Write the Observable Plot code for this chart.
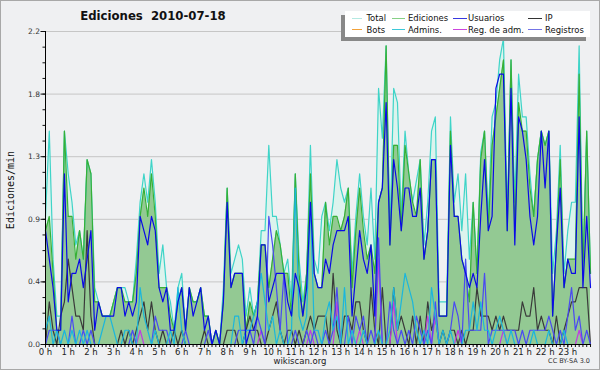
<!DOCTYPE html>
<html><head><meta charset="utf-8">
<script src="https://cdn.jsdelivr.net/npm/d3@7"></script>
<script src="https://cdn.jsdelivr.net/npm/@observablehq/plot@0.6"></script>
<style>
body{margin:0;background:#fff;}
#wrap{position:relative;width:600px;height:370px;background:#eff0f2;overflow:hidden;font-family:"DejaVu Sans Condensed","DejaVu Sans",sans-serif;color:#111;}
#border{position:absolute;left:0;top:0;width:600px;height:370px;box-sizing:border-box;border:1px solid #a8a8a8;pointer-events:none;}
#chart{position:absolute;left:0;top:0;}
#title{position:absolute;left:0;width:306px;top:8px;text-align:center;font-weight:bold;font-size:13px;white-space:pre;}
#legend{position:absolute;left:345px;top:11px;width:245px;height:26px;background:#fff;box-shadow:-4px 4px 0 #888;font-size:9.4px;}
.sw{position:absolute;height:0;border-top:1px solid;}
.lt{position:absolute;white-space:nowrap;line-height:10px;}
#ylab{position:absolute;left:10px;top:190px;transform:translate(-50%,-50%) rotate(-90deg);font-family:"DejaVu Sans Mono",monospace;font-size:10px;white-space:nowrap;}
#foot{position:absolute;left:0;width:600px;top:356px;text-align:center;font-family:"DejaVu Sans",sans-serif;font-size:8.5px;color:#222;}
#cc{position:absolute;right:10px;top:357px;font-family:"DejaVu Sans",sans-serif;font-size:6.5px;color:#333;}
</style></head>
<body>
<div id="wrap">
<div id="chart"></div>
<div id="title">Ediciones  2010-07-18</div>
<div id="legend"></div>
<div id="ylab">Ediciones/min</div>
<div id="foot">wikiscan.org</div>
<div id="cc">CC BY-SA 3.0</div>
<div id="border"></div>
</div>
<script>
// minutes since 00:00, one point every 10 minutes
const minutes = d3.range(0, 1441, 10);

const total = [
 .9,1.5,.6,.2,.2,1.5, 1.2,1.0,.7,.8,.6,1.3, 1.2,.4,.3,.2,.2,.2, .3,.4,.4,.4,.3,.3,
 .6,1.0,1.2,1.0,1.3,1.0, .5,.7,.4,.3,.1,.4, .5,.1,.4,.3,.3,.4, .2,.2,0,.1,0,.4,
 1.1,.5,.6,.7,.6,.2, .4,.2,.3,.8,.8,1.4, .9,.9,.7,.5,.6,.3, 1.2,.6,.3,.5,1.4,.6,
 .5,.9,1.0,.8,1.0,1.3, 1.1,1.0,1.1,.5,.9,1.2, .9,.7,1.1,.6,1.8,1.45, 2.1,.8,1.8,1.7,.9,1.5,
 1.2,1.0,1.15,1.3,.7,1.0, 1.5,1.6,.3,.3,.3,1.6, 1.0,1.2,.8,1.2,.6,1.0, .5,1.35,1.5,.9,1.6,1.7,
 2.0,2.15,.9,2.0,1.0,1.9, 1.6,1.6,1.2,.9,1.3,1.5, 1.4,1.5,.5,.8,1.4,.5, .8,1.0,1.0,2.1,.5,1.5,
 .5];
const ediciones = [
 .8,.9,.5,.1,.1,1.5, .9,.9,.6,.8,.6,1.3, 1.2,.3,.3,.2,.2,.2, .3,.4,.4,.3,.3,.3,
 .5,.9,1.1,.9,1.2,.9, .4,.4,.4,.2,.1,.3, .4,.1,.4,.3,.3,.4, .2,.2,0,.1,0,.3,
 1.1,.4,.5,.5,.5,.1, .3,.2,.3,.7,.7,.4, .6,.8,.7,.5,.5,.2, 1.2,.5,.2,.5,1.2,.5,
 .4,.4,1.0,.7,.9,.9, .8,.9,1.1,.4,.8,1.1, .8,.6,.7,.5,1.0,1.1, 2.1,.7,1.4,1.4,.8,1.4,
 1.2,1.0,.9,1.3,.6,.8, 1.3,1.3,.2,.2,.2,1.5, .9,.9,.6,.5,.3,1.0, .5,1.3,1.5,.8,1.4,1.6,
 1.8,2.0,.8,2.0,.8,1.7, 1.5,1.5,1.1,.9,1.3,1.5, 1.4,1.5,.2,.7,1.3,.4, .6,.6,.6,1.9,.5,1.5,
 .5];
const usuarios = [
 .8,.6,.4,.1,.1,1.2, .3,.5,.5,.6,.4,.6, .8,.1,.3,.2,.2,.2, .2,.4,.4,.2,.3,.2,
 .3,.9,.8,.7,.9,.8, .4,.3,.4,.1,.1,.3, .4,.1,.4,.2,.3,.4, .1,.2,0,.1,0,.3,
 1.0,.4,.5,.5,.5,0, .1,.1,.2,.7,.7,.3, .4,.5,.5,.5,.3,.2, .5,.4,.2,.4,1.0,.5,
 .4,.4,.6,.5,.7,.8, .8,.8,.9,.2,.5,.8, .6,.5,.7,.2,1.0,1.1, 1.7,.7,1.3,1.1,.8,1.1,
 1.1,.9,.9,1.1,.6,.8, 1.3,1.3,.2,.2,.2,1.4, .9,.9,.6,.5,.4,.5, .4,.9,1.3,.8,.9,1.8,
 1.9,1.9,.8,1.8,.7,1.6, 1.5,1.3,.9,.7,.9,1.5, 1.1,1.5,.2,.7,1.1,.4, .6,.5,.5,1.6,.4,.9,
 .4];
const ip = [
 0,.3,.1,0,.2,.3, .6,.4,.2,.2,.1,.8, .2,0,0,0,0,0, 0,0,.1,0,.1,0,
 .1,.2,.3,.1,.3,.1, 0,.1,0,0,.1,0, .1,0,0,0,0,0, .1,0,0,0,0,0,
 .1,.1,.1,0,0,.1, .2,.1,.1,0,0,.1, .2,.3,.1,0,.1,.1, 0,.1,0,.1,.2,.1,
 .2,.2,.2,0,.5,.1, 0,.2,.2,.1,.3,.3, .1,0,.4,.1,0,.4, 0,0,.4,.1,.2,.1,
 0,.2,0,.2,0,.3, .1,.2,0,.1,0,.1, .1,0,.1,0,.1,.1, .4,.2,.2,.2,.1,.2,
 .1,.2,.1,.1,.1,.1, .3,.2,.2,.4,.1,.2, .1,.1,0,.2,0,.1, .2,.3,.3,.4,.4,.4,
 0];
const bots = [
 0,0,0,0,0,0, 0,0,0,0,0,0, 0,0,0,0,0,0, 0,0,0,0,0,0,
 0,0,0,0,0,0, 0,0,0,0,0,0, 0,0,0,0,0,0, 0,0,0,0,0,0,
 0,0,0,0,0,0, 0,0,0,0,0,0, 0,0,0,0,0,0, 0,0,0,0,0,0,
 0,0,0,0,0,0, 0,0,0,0,0,0, 0,0,0,0,0,0, 0,0,0,0,0,0,
 0,0,0,0,0,0, 0,0,0,0,0,0, 0,0,0,0,0,0, 0,0,0,0,0,0,
 0,0,0,0,0,0, 0,0,0,0,0,0, 0,0,0,0,0,0, 0,0,0,0,0,0,
 0];
const admins = [
 .1,.2,0,.1,0,.1, 0,.1,0,.1,0,.1, 0,0,0,.1,.2,.2, .1,0,0,.1,.1,0,
 0,.4,.2,.1,0,.1, 0,0,0,.1,0,.4, .1,0,0,0,0,0, 0,0,0,0,0,0,
 0,0,.2,.2,0,.1, .1,.2,.3,.5,.3,.1, .2,0,.1,0,0,.1, 1.1,.2,.1,.2,1.0,.1,
 .1,0,.2,.3,.1,.2, 0,.4,0,.1,0,0, .1,0,0,0,.1,0, 0,.1,.4,.1,.3,.5,
 .4,.3,.1,0,.1,0, .4,.2,0,.1,0,.1, 0,0,0,.1,.1,.3, .1,.3,.1,.1,0,.1,
 .2,.1,0,.1,0,0, 0,0,0,.1,0,0, 0,.1,0,0,0,.1, 0,0,0,0,0,0,
 0];
const regAdm = [
 0,0,0,0,0,0, 0,0,0,0,0,0, 0,0,0,0,0,0, 0,0,0,0,0,0,
 0,.1,0,0,0,0, 0,0,0,0,0,0, 0,0,0,0,0,0, 0,0,0,0,0,0,
 0,0,0,0,0,0, 0,0,0,.1,0,0, 0,0,0,0,0,0, 0,0,0,0,.1,0,
 0,0,0,0,0,.3, 0,0,0,0,0,.1, 0,0,0,0,.6,0, 0,0,.3,0,0,0,
 0,0,0,0,0,.2, 0,.2,0,0,0,0, 0,.1,0,0,0,0, 0,0,0,0,0,0,
 0,.1,0,0,0,0, 0,0,0,0,0,0, 0,0,0,0,0,0, 0,0,0,.1,0,0,
 0];
const registros = [
 0,.1,.1,.1,0,0, 0,.2,0,0,.1,0, .1,0,0,0,0,0, 0,0,0,0,0,.1,
 0,0,0,0,0,.2, .1,.1,.1,0,0,0, 0,.1,0,0,0,0, 0,.1,0,0,0,0,
 0,0,0,.1,.1,.1, .1,0,.2,.1,0,.9, .7,.4,.1,.5,0,0, .1,0,0,.1,0,.1,
 0,0,.1,0,.1,.4, 0,0,.2,0,.2,.1, .2,0,.1,0,.75,0, 0,.3,.1,0,.1,0,
 .1,0,.2,.1,0,.1, 0,.3,0,0,0,.1, .3,.2,0,.6,.1,.1, .1,.1,.5,0,.1,.1,
 .1,.1,.1,.1,.1,0, .1,0,.1,.1,.1,.1, .1,.2,.1,0,.1,0, .2,.4,.1,.2,0,.1,
 0];

const yTicks = [0, 0.44, 0.88, 1.32, 1.76, 2.2];
const yTickLabels = ["0.0", "0.4", "0.9", "1.3", "1.8", "2.2"];
const yMinorTicks = d3.range(0, 2.21, 0.11);
const hourTicks = d3.range(0, 24).map(h => h * 60);
const hourLabels = ["0 h","1 h","2 h","3 h","4 h","5 h","6 h","7 h","8 h","9 h","10 h","11 h",
  "12 h","13 h","14 h","15 h","16 h","17 h","18 h","19 h","20 h","21 h","22 h","23 h"];
const minorXTicks = d3.range(0, 1441, 10);

const seriesNames = ["Total","Ediciones","Usuarios","IP","Bots","Admins.","Reg. de adm.","Registros"];
const legendColors = ["#b4e9e2","#86d086","#3838e0","#333333","#f2a23a","#3cc8d8","#cc44dd","#7474e6"];

const rows = minutes.map((t, i) => ({
  t, total: total[i], ed: ediciones[i], us: usuarios[i], ip: ip[i], bots: bots[i],
  adm: admins[i], reg: regAdm[i], regs: registros[i]
}));

const sw = 1.2;
const chart = Plot.plot({
  width: 600, height: 370,
  marginLeft: 45, marginRight: 10, marginTop: 31, marginBottom: 26,
  style: {background: "transparent", color: "#111", fontFamily: "DejaVu Sans, sans-serif", overflow: "visible"},
  x: {domain: [0, 1440]},
  y: {domain: [0, 2.2]},
  marks: [
    Plot.ruleY(yTicks.slice(1), {stroke: "#c6c6c6", strokeWidth: 1}),
    Plot.areaY(rows, {x: "t", y: "total", fill: "#dcf3ed", curve: "linear"}),
    Plot.areaY(rows, {x: "t", y: "ed", fill: "#93c993", curve: "linear"}),
    Plot.line(rows, {x: "t", y: "bots", stroke: "#f2a23a", strokeWidth: sw}),
    Plot.line(rows, {x: "t", y: "total", stroke: "#3fd4c8", strokeWidth: sw}),
    Plot.line(rows, {x: "t", y: "ed", stroke: "#36b036", strokeWidth: sw}),
    Plot.line(rows, {x: "t", y: "ip", stroke: "#3a3a3a", strokeWidth: sw}),
    Plot.line(rows, {x: "t", y: "reg", stroke: "#c03ce0", strokeWidth: sw}),
    Plot.line(rows, {x: "t", y: "regs", stroke: "#4a4af2", strokeWidth: sw}),
    Plot.line(rows, {x: "t", y: "adm", stroke: "#1cb6dc", strokeWidth: sw}),
    Plot.line(rows, {x: "t", y: "us", stroke: "#0a0ae6", strokeWidth: sw}),
    Plot.axisY(yMinorTicks, {anchor: "left", tickSize: 2.5, tickFormat: () => "", label: null}),
    Plot.axisY(yTicks, {anchor: "left", tickSize: 4.5, tickPadding: 1, fontSize: 7.5, fill: "#333",
      tickFormat: d => yTickLabels[yTicks.indexOf(d)], label: null}),
    Plot.axisX(minorXTicks, {anchor: "bottom", tickSize: 3, tickFormat: () => "", label: null}),
    Plot.axisX(hourTicks, {anchor: "bottom", tickSize: 3.5, tickPadding: 1, fontSize: 8.5, fill: "#222",
      tickFormat: d => hourLabels[hourTicks.indexOf(d)], label: null}),
    Plot.ruleY([0], {stroke: "#000", strokeWidth: 1}),
    Plot.ruleX([0], {stroke: "#000", strokeWidth: 1})
  ]
});
document.getElementById("chart").appendChild(chart);

// legend: 4 columns x 2 rows
const leg = document.getElementById("legend");
const swLeft = [7, 47, 108, 183];
const swWidth = [10, 13, 14, 14];
const txtLeft = [21.5, 63, 123, 200];
const rowY = [7.4, 18.6];
seriesNames.forEach((name, i) => {
  const c = i % 4, r = i < 4 ? 0 : 1;
  const s = document.createElement("div");
  s.className = "sw";
  s.style.left = swLeft[c] + "px";
  s.style.width = swWidth[c] + "px";
  s.style.top = (rowY[r] - 0.5) + "px";
  s.style.borderColor = legendColors[i];
  leg.appendChild(s);
  const t = document.createElement("div");
  t.className = "lt";
  t.style.left = txtLeft[c] + "px";
  t.style.top = (rowY[r] - 5) + "px";
  t.textContent = name;
  leg.appendChild(t);
});
</script>
</body></html>
